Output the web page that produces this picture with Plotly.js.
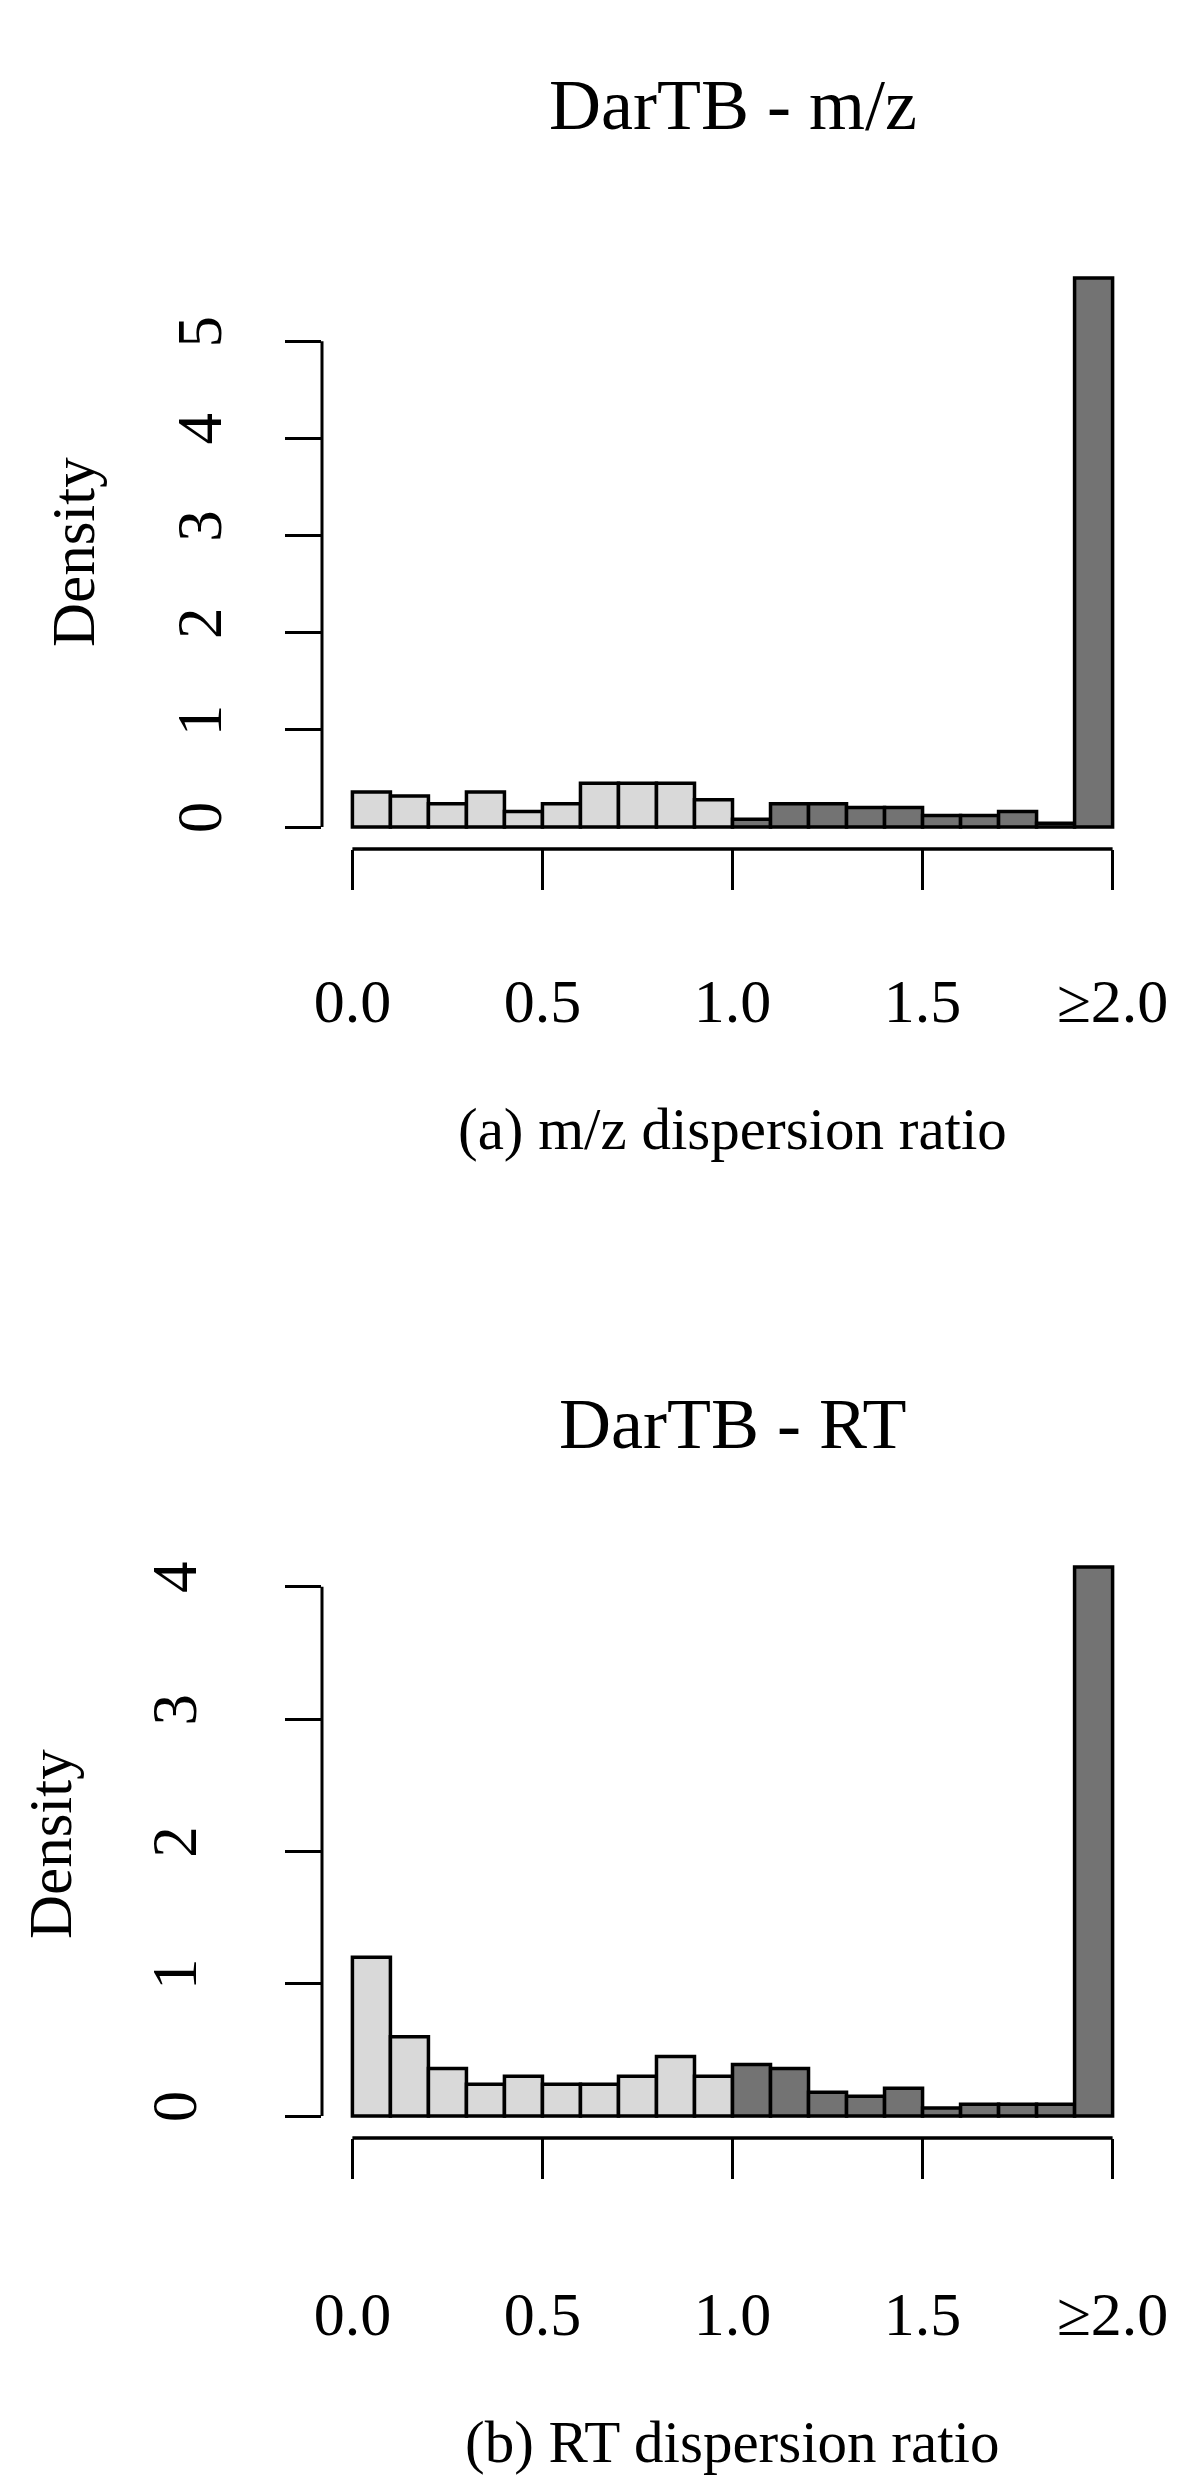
<!DOCTYPE html>
<html>
<head>
<meta charset="utf-8">
<script src="https://cdn.plot.ly/plotly-3.0.1.min.js"></script>
<style>
	html, body { margin: 0; padding: 0; background: #fff; }
	#chart { width: 1200px; height: 2487px; }
</style>
</head>
<body>
<div id="chart"></div>
<script>
(function () {

	'use strict';

	/**
	* Data (density per 0.1 wide bin)
	*/
	const binLeft = [0.0, 0.1, 0.2, 0.3, 0.4, 0.5, 0.6, 0.7, 0.8, 0.9,
		1.0, 1.1, 1.2, 1.3, 1.4, 1.5, 1.6, 1.7, 1.8, 1.9];
	const binWidth = 0.1;

	const mzDensity = [0.36, 0.32, 0.24, 0.36, 0.16, 0.24, 0.45, 0.45, 0.45, 0.28,
		0.08, 0.24, 0.24, 0.20, 0.20, 0.12, 0.12, 0.16, 0.04, 5.65];

	const rtDensity = [1.20, 0.60, 0.36, 0.24, 0.30, 0.24, 0.24, 0.30, 0.45, 0.30,
		0.39, 0.36, 0.18, 0.15, 0.21, 0.06, 0.09, 0.09, 0.09, 4.15];

	const xTickVals = [0, 0.5, 1, 1.5, 2];
	const xTickText = ['0.0', '0.5', '1.0', '1.5', '\u22652.0'];
	const mzYTicks = [0, 1, 2, 3, 4, 5];
	const rtYTicks = [0, 1, 2, 3, 4];

	const panelTitles = ['DarTB - m/z', 'DarTB - RT'];
	const xTitles = ['(a) m/z dispersion ratio', '(b) RT dispersion ratio'];
	const yTitle = 'Density';

	// R style greys
	const lightGrey = '#d9d9d9';
	const darkGrey = '#737373';

	/**
	* page geometry (pixels), R plot regions
	*/
	const W = 1200, H = 2487;
	const plotLeft = 322, plotRight = 1143;
	const panels = [
		{ top: 256, bottom: 849, xTickStandoff: 58, yTickStandoff: 39,
			titleY: 105, xLabY: 1129, yLabX: 74, yLabY: 552 },
		{ top: 1545, bottom: 2138, xTickStandoff: 82, yTickStandoff: 64,
			titleY: 1424, xLabY: 2442, yLabX: 50, yLabY: 1844 },
	];

	const font = 'Liberation Serif, Times New Roman, serif';

	const px = ( v ) => v / W;
	const py = ( v ) => 1 - v / H;

	const barColors = binLeft.map( b => b < 1 ? lightGrey : darkGrey );

	const buildBars = ( values, axisId ) => ({
		type: 'bar',
		x: binLeft,
		y: values,
		width: binWidth,
		offset: 0,
		xaxis: 'x' + axisId,
		yaxis: 'y' + axisId,
		marker: {
			color: barColors,
			line: { color: '#000', width: 3.5 },
		},
		hoverinfo: 'skip',
		showlegend: false,
	});

	const xAxis = ( panel, anchor ) => ({
		domain: [ px(plotLeft), px(plotRight) ],
		anchor,
		range: [ -0.04 * 2, 2 + 0.04 * 2 ],
		tickvals: xTickVals,
		ticktext: xTickText,
		ticks: 'outside',
		ticklen: 40,
		tickwidth: 3,
		tickcolor: '#000',
		ticklabelstandoff: panel.xTickStandoff,
		tickfont: { family: font, size: 62, color: '#000' },
		showgrid: false,
		zeroline: false,
		showline: false,
		fixedrange: true,
	});

	const yAxis = ( panel, values, ticks, anchor ) => {
		const max = Math.max( ...values );
		return {
			domain: [ py(panel.bottom), py(panel.top) ],
			anchor,
			range: [ -0.04 * max, max * 1.04 ],
			tickvals: ticks,
			ticks: 'outside',
			ticklen: 36,
			tickwidth: 3,
			tickcolor: '#000',
			tickangle: -90,
			ticklabelstandoff: panel.yTickStandoff,
			tickfont: { family: font, size: 63, color: '#000' },
			showgrid: false,
			zeroline: false,
			showline: false,
			fixedrange: true,
		};
	};

	// R draws axis lines only across the tick range
	const axisLines = ( axisId, panel, yTicks ) => ([
		{
			type: 'line', xref: 'x' + axisId, yref: 'paper',
			x0: xTickVals[0], x1: xTickVals[ xTickVals.length - 1 ],
			y0: py(panel.bottom), y1: py(panel.bottom),
			line: { color: '#000', width: 3.5 },
		},
		{
			type: 'line', xref: 'paper', yref: 'y' + axisId,
			x0: px(plotLeft), x1: px(plotLeft),
			y0: yTicks[0], y1: yTicks[ yTicks.length - 1 ],
			line: { color: '#000', width: 3 },
		},
	]);

	const textNote = ( text, x, y, size, angle ) => ({
		text,
		xref: 'paper', yref: 'paper',
		x: px(x), y: py(y),
		xanchor: 'center', yanchor: 'middle',
		showarrow: false,
		textangle: angle || 0,
		font: { family: font, size, color: '#000' },
	});

	const centerX = ( plotLeft + plotRight ) / 2;
	const annotations = [];
	panels.forEach(( p, i ) => {
		annotations.push( textNote( panelTitles[i], centerX, p.titleY, 72 ));
		annotations.push( textNote( xTitles[i], centerX, p.xLabY, 59 ));
		annotations.push( textNote( yTitle, p.yLabX, p.yLabY, 61, -90 ));
	});

	const layout = {
		width: W,
		height: H,
		margin: { l: 0, r: 0, t: 0, b: 0, pad: 0 },
		paper_bgcolor: '#fff',
		plot_bgcolor: '#fff',
		showlegend: false,
		bargap: 0,
		xaxis: xAxis( panels[0], 'y' ),
		yaxis: yAxis( panels[0], mzDensity, mzYTicks, 'x' ),
		xaxis2: xAxis( panels[1], 'y2' ),
		yaxis2: yAxis( panels[1], rtDensity, rtYTicks, 'x2' ),
		shapes: axisLines( '', panels[0], mzYTicks ).concat( axisLines( '2', panels[1], rtYTicks )),
		annotations,
	};

	Plotly.newPlot( 'chart', [
		buildBars( mzDensity, '' ),
		buildBars( rtDensity, '2' ),
	], layout, { displayModeBar: false, staticPlot: true });

})();
</script>
</body>
</html>
